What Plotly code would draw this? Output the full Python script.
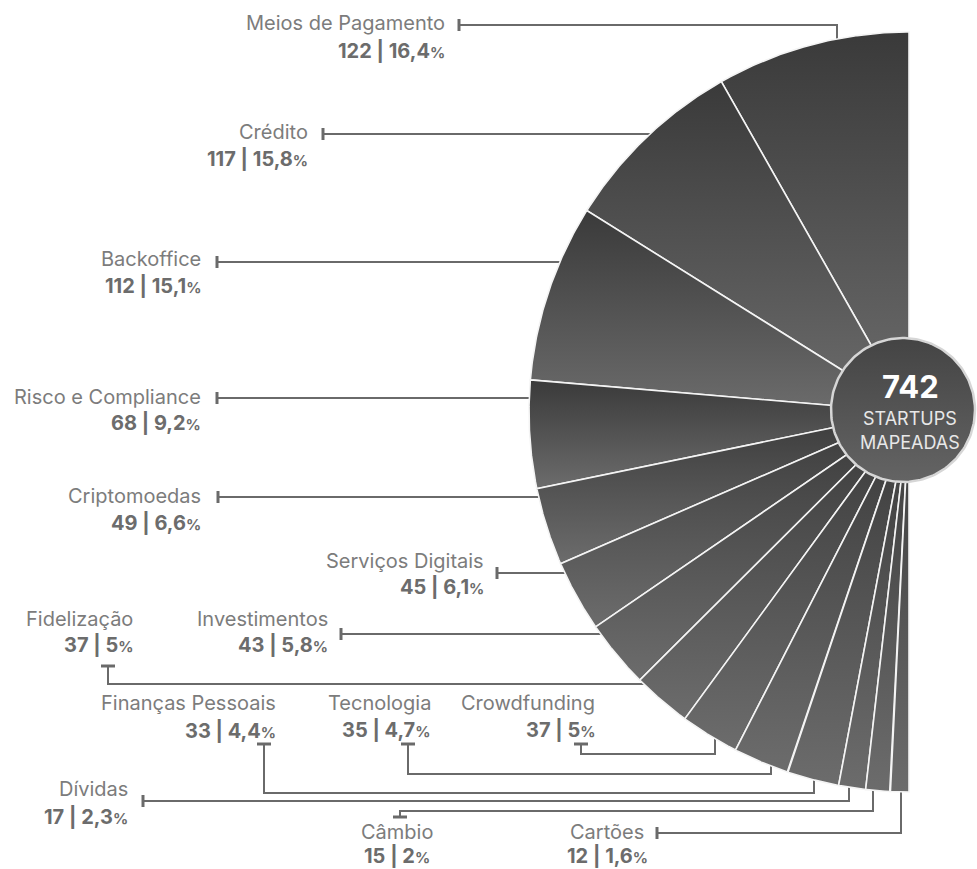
import numpy as np
import plotly.graph_objects as go

# ---- data -------------------------------------------------------------
categories = [
    "Meios de Pagamento", "Crédito", "Backoffice", "Risco e Compliance",
    "Criptomoedas", "Serviços Digitais", "Investimentos", "Fidelização",
    "Crowdfunding", "Tecnologia", "Finanças Pessoais", "Dívidas",
    "Câmbio", "Cartões",
]
startups = [122, 117, 112, 68, 49, 45, 43, 37, 37, 35, 33, 17, 15, 12]
total_label = "742"
hub_caption = ["STARTUPS", "MAPEADAS"]

# ---- geometry / style -------------------------------------------------
W, H = 977, 869
CX, CY, R = 909, 412, 380          # half-fan centre and radius (px units)
HUB_X, HUB_Y, HUB_R = 903, 410, 72
LINE_C = "#6a6a6a"
NAME_C = "#7c7c7c"
NUM_C = "#6c6c6c"
FONT = "Inter, Roboto, sans-serif"

# label anchor: (x, y of name, y of value, xanchor)
label_pos = {
    "Meios de Pagamento": (447, 23, 51, "right"),
    "Crédito": (310, 132, 159, "right"),
    "Backoffice": (203, 259, 286, "right"),
    "Risco e Compliance": (203, 397, 423, "right"),
    "Criptomoedas": (203, 496, 523, "right"),
    "Serviços Digitais": (486, 561, 587, "right"),
    "Investimentos": (330, 619, 645, "right"),
    "Fidelização": (135, 619, 645, "right"),
    "Crowdfunding": (597, 703, 730, "right"),
    "Tecnologia": (433, 703, 730, "right"),
    "Finanças Pessoais": (278, 703, 731, "right"),
    "Dívidas": (130, 789, 817, "right"),
    "Câmbio": (397, 832, 856, "center"),
    "Cartões": (607, 832, 856, "center"),
}

# leader routes: tick style, waypoints, last leg ('h' horizontal / 'v' vertical) to the arc
leaders = {
    "Meios de Pagamento": ("bar", [(459, 25), (837, 25)], "v"),
    "Crédito": ("bar", [(323, 134)], "h"),
    "Backoffice": ("bar", [(217, 262)], "h"),
    "Risco e Compliance": ("bar", [(217, 398)], "h"),
    "Criptomoedas": ("bar", [(218, 497)], "h"),
    "Serviços Digitais": ("bar", [(497, 573)], "h"),
    "Investimentos": ("bar", [(341, 634)], "h"),
    "Fidelização": ("tee", [(108, 666), (108, 684)], "h"),
    "Crowdfunding": ("tee", [(581, 744), (581, 754), (715, 754)], "v"),
    "Tecnologia": ("tee", [(408, 744), (408, 774), (771, 774)], "v"),
    "Finanças Pessoais": ("tee", [(264, 744), (264, 793), (814, 793)], "v"),
    "Dívidas": ("bar", [(143, 801), (849, 801)], "v"),
    "Câmbio": ("tee", [(400, 817), (400, 811), (873, 811)], "v"),
    "Cartões": ("bar", [(657, 833), (901, 833)], "v"),
}


def pct_text(v, total):
    p = round(v / total * 100, 1)
    s = f"{p:.1f}".replace(".", ",")
    if s.endswith(",0"):
        s = s[:-2]
    return s


fig = go.Figure()
total = sum(startups)

# leader lines (drawn under the fan)
for cat in categories:
    tick, pts, leg = leaders[cat]
    xs = [p[0] for p in pts]
    ys = [p[1] for p in pts]
    lx, ly = pts[-1]
    if leg == "h":
        ex = CX - np.sqrt(R ** 2 - (ly - CY) ** 2)
        xs.append(ex + 3)
        ys.append(ly)
    else:
        dy = np.sqrt(R ** 2 - (lx - CX) ** 2)
        ey = CY - dy if ly < CY else CY + dy
        xs.append(lx)
        ys.append(ey + (3 if ly < CY else -3))
    fig.add_trace(go.Scatter(x=xs, y=ys, mode="lines",
                             line=dict(color=LINE_C, width=2),
                             hoverinfo="skip", showlegend=False))
    sx, sy = pts[0]
    if tick == "bar":
        tx, ty = [sx, sx], [sy - 6, sy + 6]
    else:
        tx, ty = [sx - 7, sx + 7], [sy, sy]
    fig.add_trace(go.Scatter(x=tx, y=ty, mode="lines",
                             line=dict(color=LINE_C, width=3),
                             hoverinfo="skip", showlegend=False))

# fan wedges: counter-clockwise from 12 o'clock to 6 o'clock,
# each shaded dark at its top edge to lighter at its bottom edge
grad = dict(type="vertical", colorscale=[[0, "#6c6c6c"], [1, "#3a3a3a"]])
start = 90.0
for cat, v in zip(categories, startups):
    span = v / total * 180.0
    th = np.radians(np.linspace(start, start + span, 80))
    xs = np.concatenate([[CX], CX + R * np.cos(th), [CX]])
    ys = np.concatenate([[CY], CY - R * np.sin(th), [CY]])
    fig.add_trace(go.Scatter(x=xs, y=ys, mode="lines", fill="toself",
                             fillgradient=grad,
                             line=dict(color="#f4f4f4", width=1.6),
                             name=cat, hoverinfo="name", showlegend=False))
    start += span

# central hub
t = np.linspace(0, 2 * np.pi, 200)
fig.add_trace(go.Scatter(x=HUB_X + HUB_R * np.cos(t), y=HUB_Y + HUB_R * np.sin(t),
                         mode="lines", fill="toself",
                         fillgradient=dict(type="vertical",
                                           colorscale=[[0, "#646464"], [1, "#444444"]]),
                         line=dict(color="#d6d6d6", width=2.5),
                         hoverinfo="skip", showlegend=False))

annotations = []
for cat, v in zip(categories, startups):
    x, yn, yv, anchor = label_pos[cat]
    annotations.append(dict(x=x, y=yn, text=cat, showarrow=False, xanchor=anchor,
                            yanchor="middle",
                            font=dict(family=FONT, size=20, color=NAME_C)))
    annotations.append(dict(
        x=x, y=yv,
        text=f"<b>{v} | {pct_text(v, total)}<span style='font-size:15px'>%</span></b>",
        showarrow=False, xanchor=anchor, yanchor="middle",
        font=dict(family=FONT, size=20, color=NUM_C)))

annotations.append(dict(x=910, y=386, text=f"<b>{total_label}</b>", showarrow=False,
                        xanchor="center", yanchor="middle",
                        font=dict(family=FONT, size=31, color="#ffffff")))
for i, line in enumerate(hub_caption):
    annotations.append(dict(x=910, y=418 + 24 * i, text=line, showarrow=False,
                            xanchor="center", yanchor="middle",
                            font=dict(family=FONT, size=18, color="#e8e8e8")))

fig.update_layout(
    width=W, height=H,
    margin=dict(l=0, r=0, t=0, b=0),
    paper_bgcolor="white", plot_bgcolor="white",
    xaxis=dict(range=[0, W], visible=False, fixedrange=True),
    yaxis=dict(range=[H, 0], visible=False, fixedrange=True),
    annotations=annotations,
    showlegend=False,
)

fig.write_html("out.html")
